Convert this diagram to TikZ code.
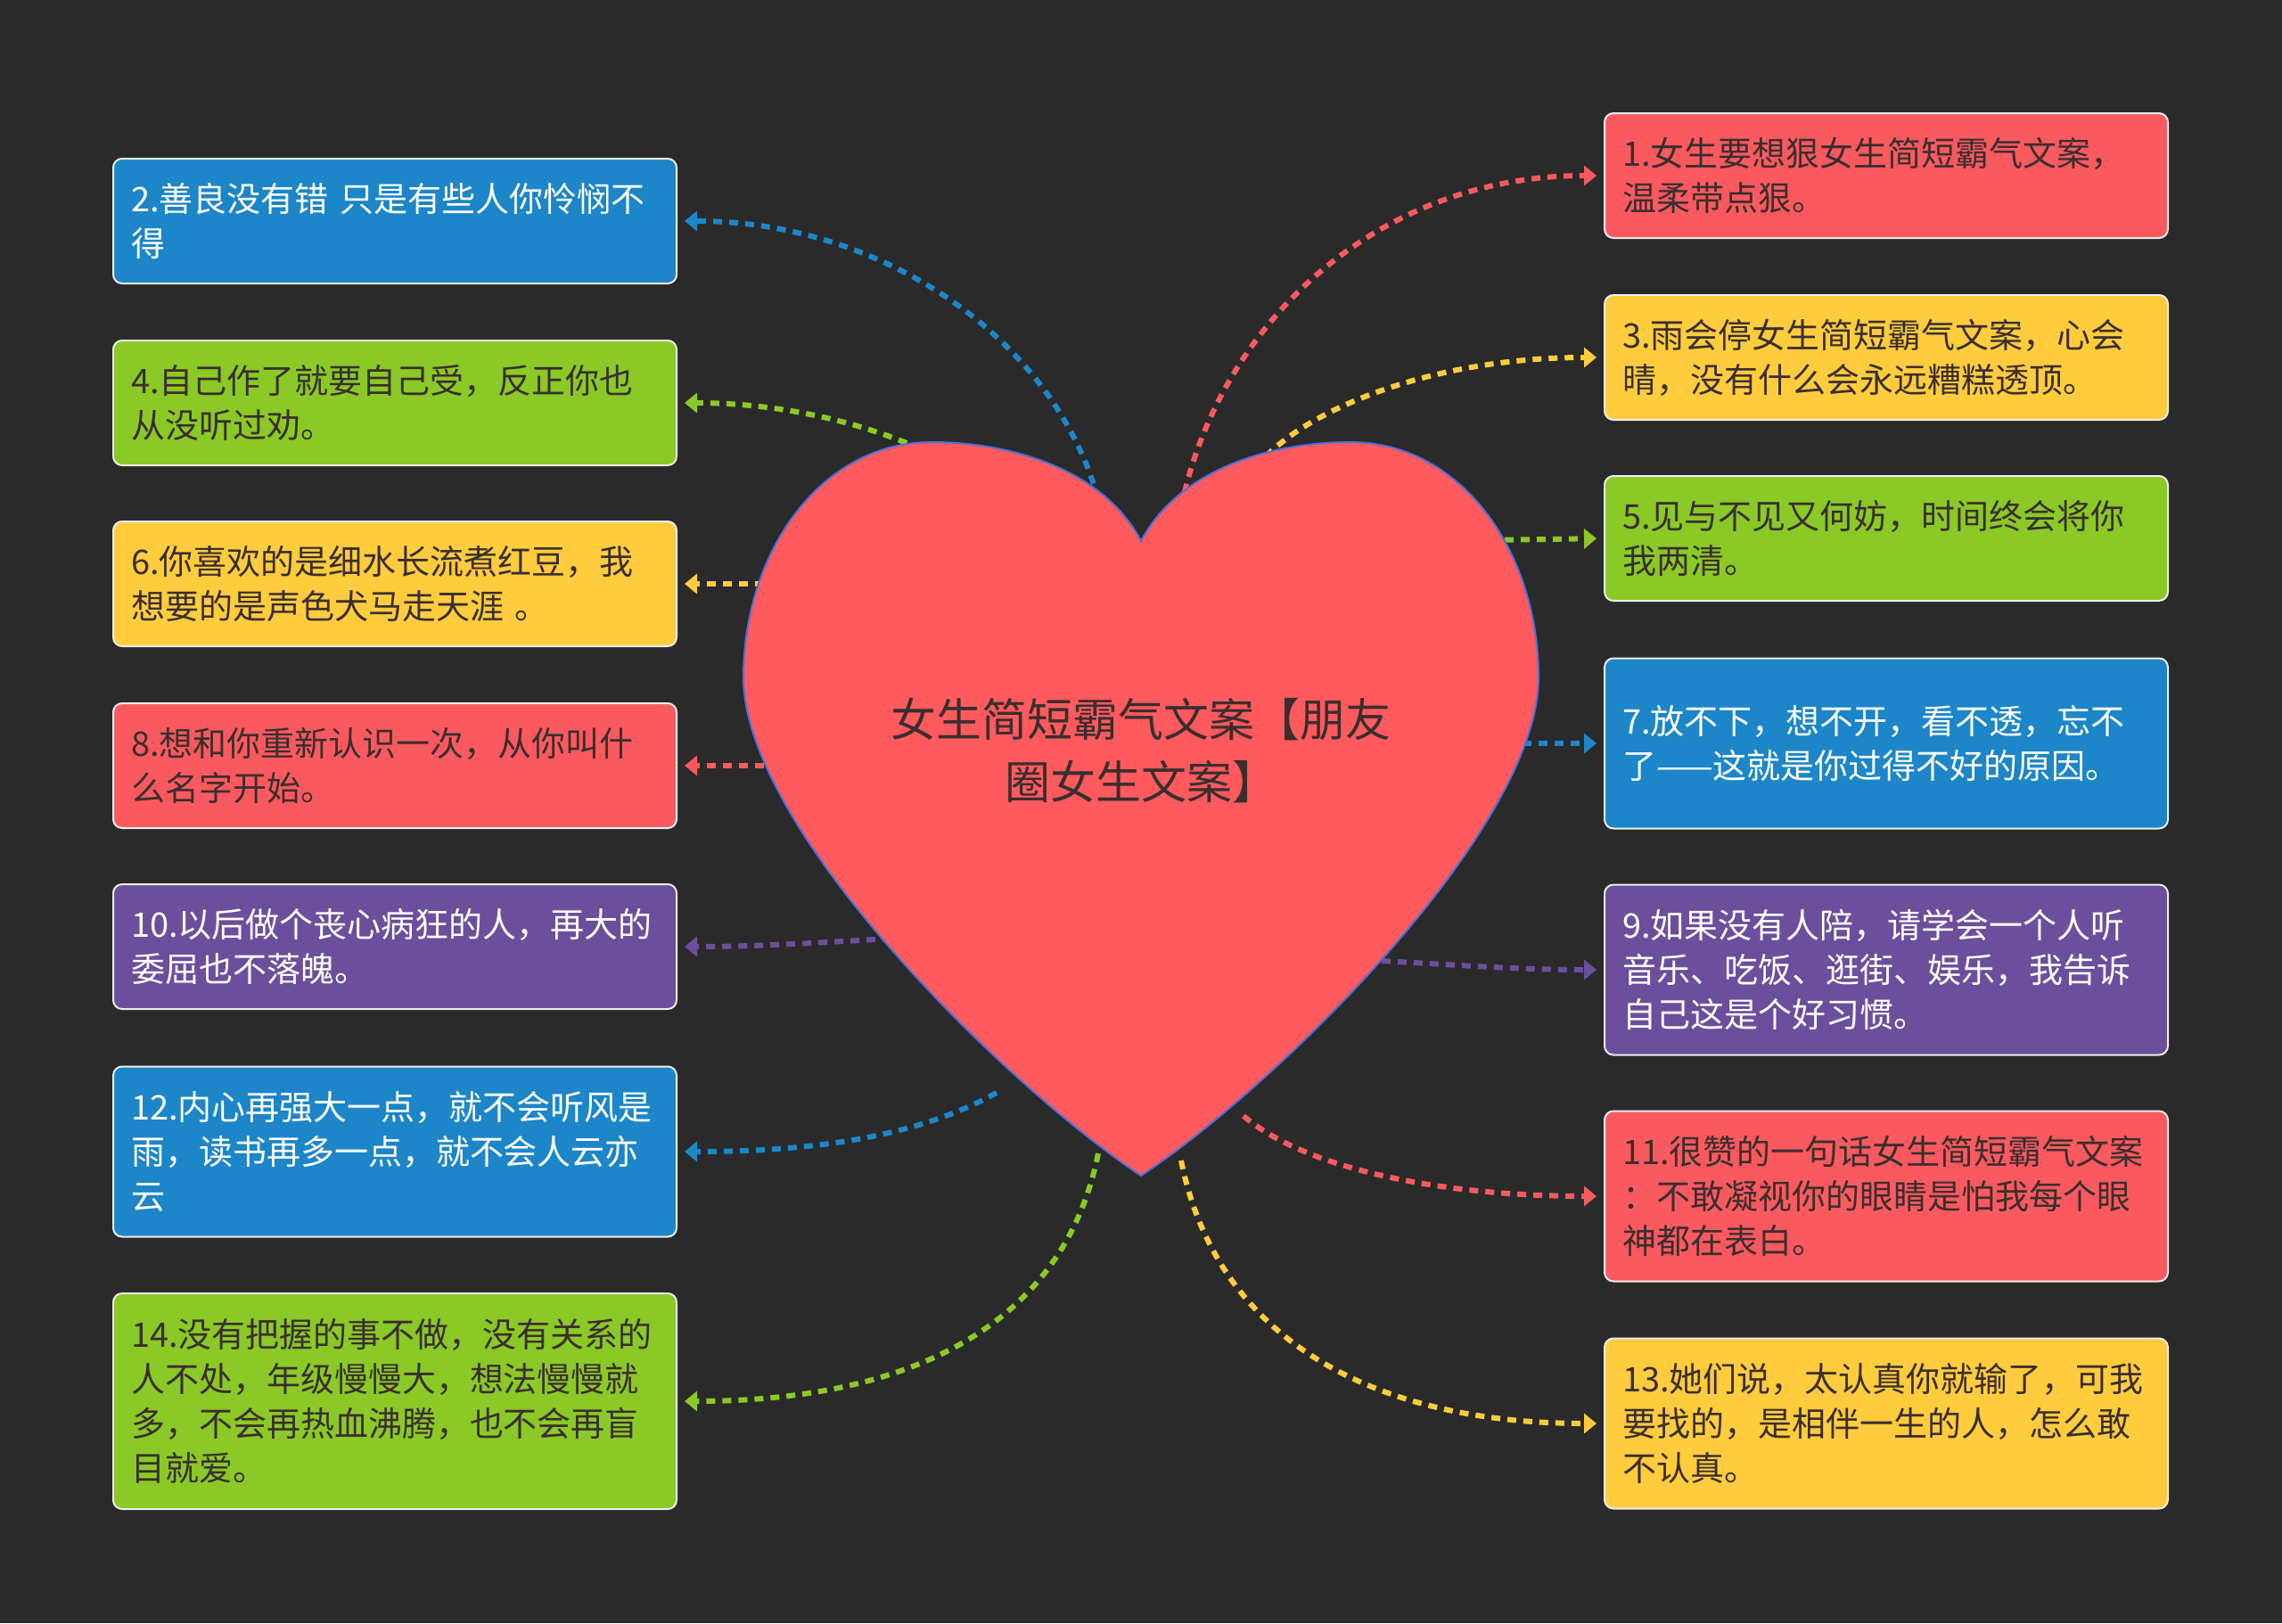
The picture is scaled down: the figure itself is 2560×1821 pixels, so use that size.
\documentclass[tikz,border=0pt]{standalone}
\usepackage{fontspec}
\setmainfont{Noto Sans CJK SC}
\usetikzlibrary{arrows.meta}
\definecolor{bg}{HTML}{2A2A2A}
\definecolor{cred}{HTML}{FA5A5F}
\definecolor{cblue}{HTML}{1C86C8}
\definecolor{cgreen}{HTML}{8BC926}
\definecolor{cyellow}{HTML}{FFCC3E}
\definecolor{cpurple}{HTML}{6B4F9C}
\definecolor{boxline}{HTML}{EDEDED}
\definecolor{darktext}{HTML}{3A2E2E}
\definecolor{heartfill}{HTML}{FF5A5E}
\definecolor{heartline}{HTML}{4A70D8}
\begin{document}
\begin{tikzpicture}[x=0.5pt,y=-0.5pt,
  box/.style={draw=boxline, line width=1pt, rounded corners=5pt,
    text width=296pt, inner xsep=10pt, inner ysep=0pt, align=left,
    font=\fontsize{19pt}{25pt}\selectfont},
  two/.style={minimum height=70pt},
  three/.style={minimum height=95.5pt},
  four/.style={minimum height=121pt},
  redbox/.style={box, fill=cred, text=darktext},
  bluebox/.style={box, fill=cblue, text=white},
  greenbox/.style={box, fill=cgreen, text=darktext},
  yellowbox/.style={box, fill=cyellow, text=darktext},
  purplebox/.style={box, fill=cpurple, text=white},
  conn/.style={line width=3pt, dash pattern=on 5pt off 4pt,
    -{Triangle[length=7pt,width=11pt]}, shorten >=4pt},
]
\useasboundingbox[fill=bg] (0,0) rectangle (2560,1821);

% left boxes
\node[bluebox,two] (b2) at (443,248) {2.善良没有错 只是有些人你怜悯不\\得};
\node[greenbox,two] (b4) at (443,452) {4.自己作了就要自己受，反正你也\\从没听过劝。};
\node[yellowbox,two] (b6) at (443,655) {6.你喜欢的是细水长流煮红豆，我\\想要的是声色犬马走天涯 。};
\node[redbox,two] (b8) at (443,859) {8.想和你重新认识一次，从你叫什\\么名字开始。};
\node[purplebox,two] (b10) at (443,1062) {10.以后做个丧心病狂的人，再大的\\委屈也不落魄。};
\node[bluebox,three] (b12) at (443,1292) {12.内心再强大一点，就不会听风是\\雨，读书再多一点，就不会人云亦\\云};
\node[greenbox,four] (b14) at (443,1572) {14.没有把握的事不做，没有关系的\\人不处，年级慢慢大，想法慢慢就\\多，不会再热血沸腾，也不会再盲\\目就爱。};

% right boxes
\node[redbox,two] (b1) at (2116,197) {1.女生要想狠女生简短霸气文案，\\温柔带点狠。};
\node[yellowbox,two] (b3) at (2116,401) {3.雨会停女生简短霸气文案，心会\\晴，没有什么会永远糟糕透顶。};
\node[greenbox,two] (b5) at (2116,604) {5.见与不见又何妨，时间终会将你\\我两清。};
\node[bluebox,three] (b7) at (2116,834) {7.放不下，想不开，看不透，忘不\\了——这就是你过得不好的原因。};
\node[purplebox,three] (b9) at (2116,1088) {9.如果没有人陪，请学会一个人听\\音乐、吃饭、逛街、娱乐，我告诉\\自己这是个好习惯。};
\node[redbox,three] (b11) at (2116,1342) {11.很赞的一句话女生简短霸气文案\\：不敢凝视你的眼睛是怕我每个眼\\神都在表白。};
\node[yellowbox,three] (b13) at (2116,1597) {13.她们说，太认真你就输了，可我\\要找的，是相伴一生的人，怎么敢\\不认真。};

% connector start points (on the heart)
\coordinate (s1) at (1325,570);
\coordinate (s2) at (1232,560);
\coordinate (s3) at (1420,512);
\coordinate (s4) at (1050,512);
\coordinate (s5) at (1670,606);
\coordinate (s6) at (875,655);
\coordinate (s7) at (1690,834);
\coordinate (s8) at (875,859);
\coordinate (s9) at (1550,1078);
\coordinate (s10) at (1000,1053);
\coordinate (s11) at (1395,1252);
\coordinate (s12) at (1118,1226);
\coordinate (s13) at (1325,1302);
\coordinate (s14) at (1232,1294);

% connectors
\draw[conn,cblue] (s2) .. controls +(-50,-180) and +(230,0) .. (b2.east);
\draw[conn,cgreen] (s4) .. controls +(-80,-40) and +(110,0) .. (b4.east);
\draw[conn,cyellow] (s6) -- (b6.east);
\draw[conn,cred] (s8) -- (b8.east);
\draw[conn,cpurple] (s10) .. controls +(-90,5) and +(90,0) .. (b10.east);
\draw[conn,cblue] (s12) .. controls +(-90,50) and +(150,0) .. (b12.east);
\draw[conn,cgreen] (s14) .. controls +(-40,200) and +(250,0) .. (b14.east);

\draw[conn,cred] (s1) .. controls +(40,-200) and +(-260,0) .. (b1.west);
\draw[conn,cyellow] (s3) .. controls +(60,-60) and +(-180,0) .. (b3.west);
\draw[conn,cgreen] (s5) -- (b5.west);
\draw[conn,cblue] (s7) -- (b7.west);
\draw[conn,cpurple] (s9) .. controls +(90,5) and +(-90,0) .. (b9.west);
\draw[conn,cred] (s11) .. controls +(70,60) and +(-180,0) .. (b11.west);
\draw[conn,cyellow] (s13) .. controls +(40,200) and +(-260,0) .. (b13.west);

% heart
\draw[fill=heartfill, draw=heartline, line width=1pt]
  (1280,607) .. controls (1240,530) and (1140,496) .. (1045,496)
  .. controls (920,496) and (834,620) .. (834,760)
  .. controls (834,930) and (1130,1220) .. (1280,1319)
  .. controls (1430,1220) and (1726,930) .. (1726,760)
  .. controls (1726,620) and (1640,496) .. (1515,496)
  .. controls (1420,496) and (1320,530) .. (1280,607) -- cycle;

\node[text=darktext, align=center, font=\fontsize{25.5pt}{35pt}\selectfont] (center) at (1280,842)
  {女生简短霸气文案【朋友\\圈女生文案】};
\end{tikzpicture}
\end{document}
